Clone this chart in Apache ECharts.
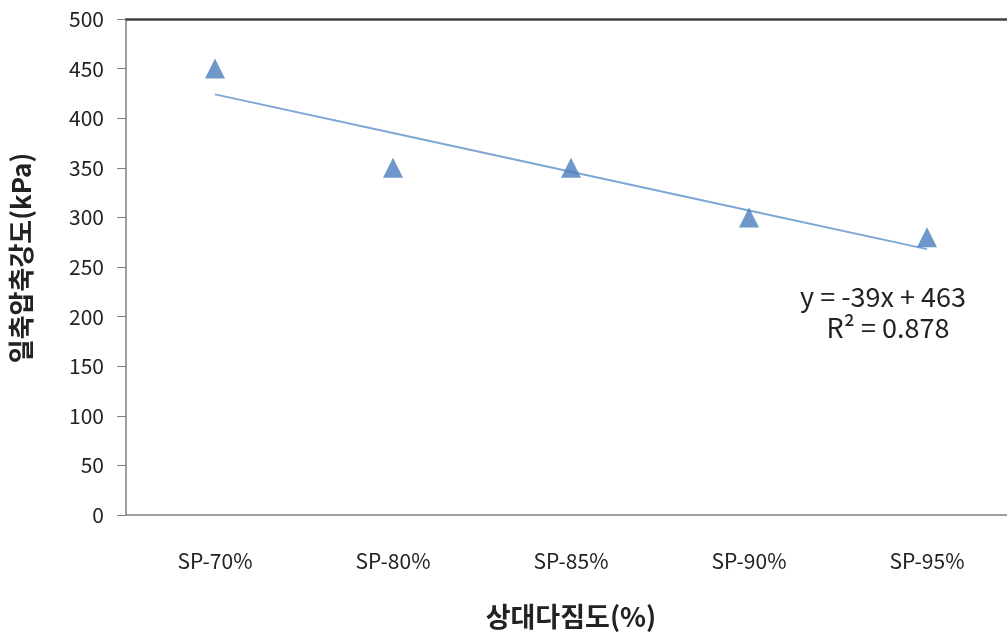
<!DOCTYPE html>
<html>
<head>
<meta charset="utf-8">
<script src="https://cdn.jsdelivr.net/npm/echarts@6/dist/echarts.min.js"></script>
<style>
  html, body { margin: 0; padding: 0; background: #fff; }
  #chart { width: 1007px; height: 640px; }
</style>
</head>
<body>
<div id="chart"></div>
<script>
// Relative compaction levels and unconfined compressive strength (kPa)
const categories = ['SP-70%', 'SP-80%', 'SP-85%', 'SP-90%', 'SP-95%'];
const strength = [450, 350, 350, 300, 280];
const yTicks = [0, 50, 100, 150, 200, 250, 300, 350, 400, 450, 500];

// Linear trend as printed on the chart: y = -39x + 463, R² = 0.878
const trendSlope = [-39];
const trendIntercept = [463];
const trendR2 = ['0.878'];

const trend = categories.map((c, i) => trendSlope[0] * (i + 1) + trendIntercept[0]);

const FONT = '"Noto Sans CJK KR", "Noto Sans", sans-serif';

const chart = echarts.init(document.getElementById('chart'));
chart.setOption({
  animation: false,
  backgroundColor: '#ffffff',
  grid: { left: 126, top: 19, width: 890, height: 496, outerBoundsMode: 'none', containLabel: false },
  xAxis: [
    {
      type: 'category',
      data: categories,
      boundaryGap: true,
      axisLine: { lineStyle: { color: '#808080', width: 1.5 } },
      axisTick: { show: false },
      axisLabel: { color: '#222', fontSize: 21, fontFamily: FONT, margin: 36 },
      name: '상대다짐도(%)',
      nameLocation: 'middle',
      nameGap: 88,
      nameTextStyle: { color: '#222', fontSize: 27, fontWeight: 'bold', fontFamily: FONT }
    },
    {
      type: 'category',
      data: categories,
      position: 'top',
      axisLine: { lineStyle: { color: '#404040', width: 2.5 } },
      axisTick: { show: false },
      axisLabel: { show: false }
    }
  ],
  yAxis: {
    type: 'value',
    min: yTicks[0],
    max: yTicks[yTicks.length - 1],
    interval: yTicks[1] - yTicks[0],
    axisLine: { show: true, lineStyle: { color: '#808080', width: 1.5 } },
    axisTick: { show: true, inside: false, length: 9, lineStyle: { color: '#808080' } },
    axisLabel: { color: '#222', fontSize: 21, fontFamily: FONT, margin: 22 },
    splitLine: { show: false },
    name: '일축압축강도(kPa)',
    nameLocation: 'middle',
    nameGap: 92,
    nameRotate: 90,
    nameTextStyle: { color: '#222', fontSize: 26, fontWeight: 'bold', fontFamily: FONT, padding: [0, 0, 0, 18] }
  },
  series: [
    {
      name: 'trend',
      type: 'line',
      data: trend,
      symbol: 'none',
      lineStyle: { color: '#7ea7d6', width: 2 },
      z: 2
    },
    {
      name: 'strength',
      type: 'scatter',
      data: strength,
      symbol: 'triangle',
      symbolSize: 20,
      itemStyle: { color: '#4a7ebb' },
      z: 3
    }
  ],
  graphic: [
    {
      type: 'text',
      x: 883, y: 297,
      style: {
        text: 'y = ' + trendSlope[0] + 'x + ' + trendIntercept[0],
        font: '27px ' + FONT, fill: '#222',
        align: 'center', verticalAlign: 'middle'
      }
    },
    {
      type: 'text',
      x: 888, y: 328,
      style: {
        text: 'R² = ' + trendR2[0],
        font: '27px ' + FONT, fill: '#222',
        align: 'center', verticalAlign: 'middle'
      }
    }
  ]
});
</script>
</body>
</html>
